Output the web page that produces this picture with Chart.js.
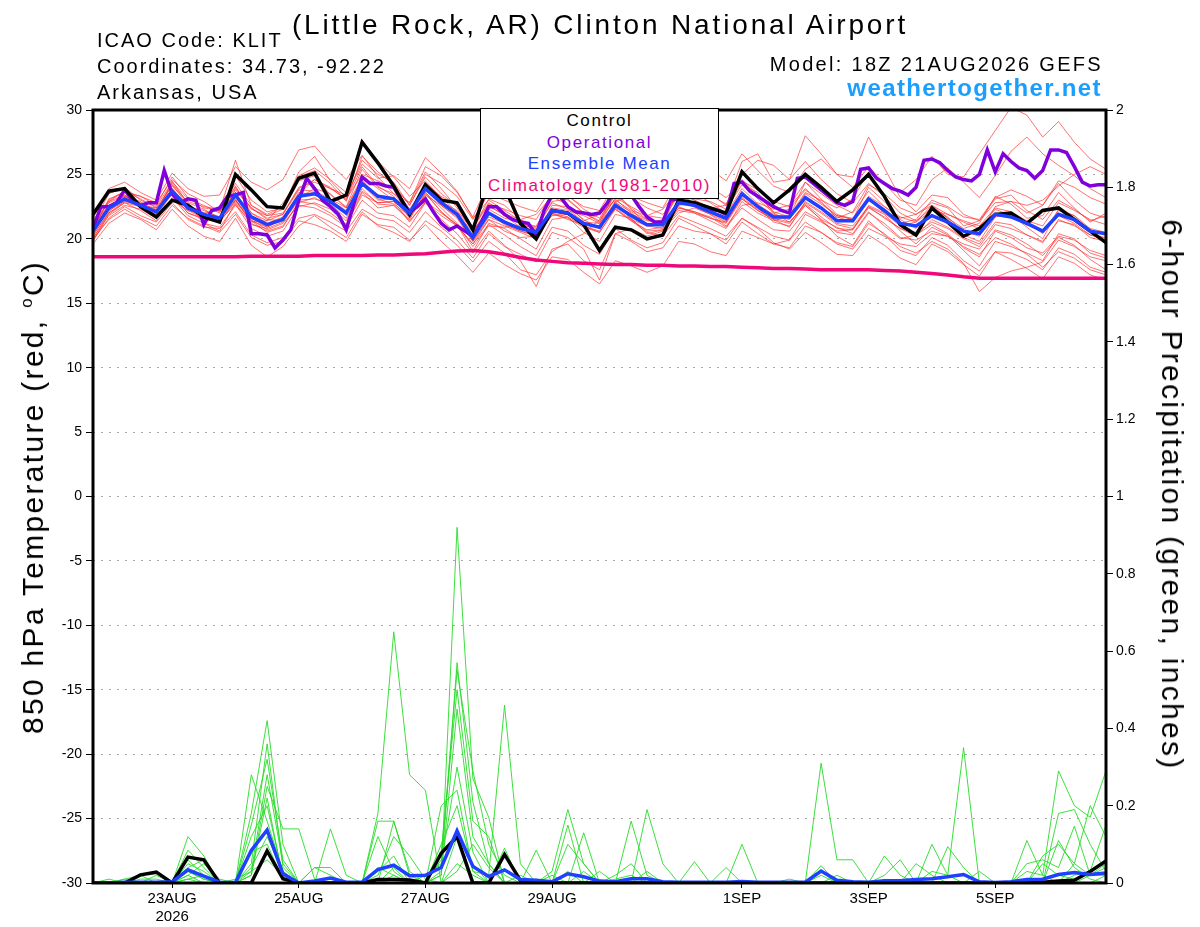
<!DOCTYPE html>
<html>
<head>
<meta charset="utf-8">
<script src="https://cdn.jsdelivr.net/npm/chart.js@4.4.0/dist/chart.umd.min.js"></script>
<style>
    body { margin: 0; background: #fff; }
    #wrap { position: relative; width: 1200px; height: 927px; font-family: "Liberation Sans", Arial, sans-serif; color: #000; }
    #myChart { position: absolute; left: 0; top: 0; }
    .txt { position: absolute; white-space: nowrap; }
    #title { left: 0; top: 11px; width: 1200px; text-align: center; font-size: 28px; line-height: 28px; letter-spacing: 2.85px; }
    #info { left: 97px; top: 27px; font-size: 20px; line-height: 26px; letter-spacing: 2px; }
    #model { right: 97px; top: 51px; font-size: 20px; line-height: 26px; letter-spacing: 2.3px; }
    #site { right: 98px; top: 76px; font-size: 24px; line-height: 24px; font-weight: bold; color: #1a9fff; letter-spacing: 1.4px; }
    #ytitle { left: 33px; top: 497px; font-size: 30px; letter-spacing: 2.3px; transform: translate(-50%, -50%) rotate(-90deg); }
    #y2title { left: 1172px; top: 495px; font-size: 30px; letter-spacing: 2.3px; transform: translate(-50%, -50%) rotate(90deg); }
    #legend { left: 480px; top: 108px; width: 237px; height: 88px; padding-top: 1px; background: #fff; border: 1px solid #000;
        text-align: center; font-size: 17px; line-height: 21.7px; letter-spacing: 1.6px; }
</style>
</head>
<body>
<div id="wrap">
    <canvas id="myChart" width="1200" height="927"></canvas>
    <div class="txt" id="title">(Little Rock, AR) Clinton National Airport</div>
    <div class="txt" id="info">ICAO Code: KLIT<br>Coordinates: 34.73, -92.22<br>Arkansas, USA</div>
    <div class="txt" id="model">Model: 18Z 21AUG2026 GEFS</div>
    <div class="txt" id="site">weathertogether.net</div>
    <div class="txt" id="ytitle">850 hPa Temperature (red, <sup style="font-size:17px">o</sup>C)</div>
    <div class="txt" id="y2title">6-hour Precipitation (green, inches)</div>
    <div class="txt" id="legend">
        <div style="color:#000">Control</div>
        <div style="color:#8000dc">Operational</div>
        <div style="color:#2040ff">Ensemble Mean</div>
        <div style="color:#f0087a">Climatology (1981-2010)</div>
    </div>
</div>
<script>
const ctx = document.getElementById("myChart");

// hours after 18Z 21AUG2026
const tickHours = [30, 78, 126, 174, 246, 294, 342];
const tickLabels = [["23AUG", "2026"], "25AUG", "27AUG", "29AUG", "1SEP", "3SEP", "5SEP"];
const hours6 = Array.from({ length: 65 }, (_, i) => i * 6);
const hours3 = Array.from({ length: 129 }, (_, i) => i * 3);

// 850 hPa temperature, deg C
let tempControl = [21.9,23.7,23.9,22.5,21.7,23.0,22.6,21.7,21.3,25.0, 23.8,22.5,22.4,24.7,25.1,22.9,23.4,27.5,25.9,24.1,
    21.9,24.2,23.0,22.8,20.7,24.5,24.0,21.2,20.0,22.2, 22.0,21.1,19.1,20.9,20.7,20.0,20.3,23.0,22.8,22.4,
    22.0,25.2,23.9,22.8,23.8,25.0,24.0,22.9,23.8,25.0, 23.3,21.1,20.3,22.4,21.3,20.2,20.8,21.9,22.0,21.2,
    22.2,22.4,21.5,20.6,19.7];

let tempMean = [20.6,22.4,23.1,22.6,22.1,23.7,22.4,21.9,21.6,23.4, 21.7,21.1,21.5,23.3,23.5,22.9,22.0,24.3,23.3,23.1,
    22.0,23.9,22.8,21.9,20.1,22.0,21.3,20.8,20.5,22.2, 22.0,21.2,20.9,22.6,21.8,21.1,21.1,22.8,22.6,22.1,
    21.6,23.5,22.5,21.7,21.7,23.2,22.4,21.4,21.4,23.1, 22.2,21.2,21.0,21.8,21.3,20.6,20.4,21.9,21.7,21.2,
    20.6,21.9,21.5,20.6,20.4];

// operational run, every 3 hours
let tempOper = [20.8,22.5,22.5,22.8,23.8,23.0,22.6,22.8,22.8,25.3, 23.5,22.8,23.1,23.0,21.1,22.2,22.4,23.3,23.4,23.6,
    20.4,20.4,20.3,19.3,19.9,20.7,23.0,24.7,23.9,23.0, 22.5,21.9,20.7,22.8,24.8,24.3,24.3,24.1,24.0,23.0,
    22.1,22.5,23.1,22.1,21.2,20.7,21.0,20.6,20.2,21.2, 22.5,22.5,21.9,21.5,21.3,21.2,20.3,22.2,23.4,23.3,
    22.5,22.1,22.0,21.9,22.0,22.8,24.0,24.3,23.4,22.5, 21.7,21.3,21.3,23.0,23.1,22.8,22.6,22.5,22.3,22.2,
    21.9,24.3,24.4,23.7,23.3,22.9,22.5,22.2,22.0,24.7, 24.8,24.3,23.8,23.3,22.8,22.6,22.9,25.4,25.5,24.7,
    24.3,23.9,23.7,23.4,24.0,26.1,26.2,25.9,25.3,24.8, 24.6,24.5,25.0,26.9,25.2,26.6,26.0,25.5,25.3,24.7,
    25.3,26.9,26.9,26.7,25.6,24.4,24.1,24.2,24.2];

let tempClimo = [18.6,18.6,18.6,18.6,18.6,18.6,18.6,18.6,18.6,18.6, 18.65,18.65,18.65,18.65,18.7,18.7,18.7,18.7,18.75,18.75,
    18.8,18.85,18.95,19.05,19.1,19.0,18.8,18.55,18.35,18.25, 18.15,18.1,18.05,18.0,18.0,17.95,17.95,17.9,17.9,17.85,
    17.85,17.8,17.75,17.7,17.7,17.65,17.6,17.6,17.6,17.6, 17.55,17.5,17.4,17.3,17.2,17.05,16.95,16.95,16.95,16.95,
    16.95,16.95,16.95,16.95,16.95];

let redMembers = [
    [21.2,23.5,24.0,23.0,22.5,24.4,23.1,22.6,22.0,24.9, 23.0,22.1,22.4,25.2,26.4,24.5,23.2,26.1,25.0,24.4,
     22.6,24.8,23.5,22.6,20.9,22.8,22.0,21.2,20.7,22.9, 23.1,22.0,21.3,23.6,22.4,21.5,21.0,23.9,23.6,22.8,
     22.0,24.6,23.4,22.1,21.7,24.4,23.1,21.9,21.5,24.0, 22.9,21.5,20.8,22.5,21.6,20.3,19.8,21.7,21.9,20.9,
     20.0,22.3,21.8,20.5,20.0],
    [20.1,21.8,22.6,22.3,21.6,23.0,22.2,21.9,21.4,22.7, 20.8,20.2,20.6,22.5,22.8,22.3,21.1,23.4,22.8,22.9,
     21.3,22.9,22.0,21.1,19.0,21.2,20.8,20.0,19.2,21.5, 21.7,20.5,19.8,21.9,21.6,20.4,20.7,22.0,22.4,21.9,
     21.0,22.6,22.8,22.3,22.6,24.4,23.5,22.6,22.0,23.7, 22.5,21.6,21.9,22.8,22.4,21.0,21.4,22.8,22.9,22.0,
     22.6,24.3,23.0,22.0,21.6],
    [20.8,22.9,23.4,22.4,21.9,24.5,22.7,21.2,20.9,22.6, 21.3,21.4,22.8,24.5,24.9,23.4,22.5,25.4,24.0,23.5,
     22.8,25.2,23.9,22.4,20.8,23.1,22.6,21.5,21.9,23.3, 22.6,21.4,21.9,23.0,22.2,21.8,22.3,23.8,23.0,22.4,
     22.6,26.0,26.6,24.4,24.6,28.0,26.6,25.0,24.8,27.9, 25.5,23.2,22.1,23.4,23.2,21.9,21.4,23.1,23.4,22.2,
     21.5,23.0,22.3,21.4,21.8],
    [19.9,21.6,22.5,21.8,21.3,22.8,21.5,20.9,20.8,22.1, 20.3,19.7,20.1,21.6,21.9,21.3,20.6,22.3,21.6,21.4,
     20.5,22.1,20.9,19.9,18.5,20.4,19.4,18.8,18.2,20.5, 20.1,19.2,16.8,20.4,19.8,19.0,19.3,21.0,20.6,20.4,
     19.9,21.6,20.8,19.7,19.2,20.5,19.7,18.8,18.7,20.3, 19.5,18.5,18.0,19.6,19.0,18.0,17.1,19.0,18.9,18.4,
     17.6,19.3,18.8,17.8,17.4],
    [21.5,22.9,23.7,23.1,22.4,24.1,22.9,22.5,22.3,24.3, 22.6,21.8,22.0,23.9,24.6,24.0,23.0,25.6,24.1,23.3,
     21.6,23.6,22.4,21.2,19.9,22.6,21.8,20.9,21.0,23.1, 23.4,22.3,21.6,23.5,22.3,21.1,21.5,23.4,23.1,22.9,
     22.3,24.2,23.6,22.0,22.3,23.8,22.9,21.6,22.1,24.2, 23.5,22.4,21.9,22.6,21.6,20.8,21.2,23.3,22.7,21.6,
     21.8,23.6,22.4,21.3,22.0],
    [20.6,22.2,22.9,22.6,22.4,23.8,22.5,22.2,21.7,23.9, 22.4,21.6,21.9,23.8,23.7,23.1,22.4,24.8,23.9,23.0,
     21.7,23.4,22.6,21.7,19.8,21.5,20.6,20.1,20.2,22.6, 22.5,21.5,20.8,22.6,21.9,21.4,21.3,22.5,22.0,21.4,
     20.8,22.9,22.0,21.4,21.8,23.6,23.0,22.4,23.1,25.2, 24.3,23.6,24.6,26.4,25.0,24.8,26.6,28.4,30.2,29.6,
     27.9,29.1,27.5,26.2,25.4],
    [19.8,21.9,22.8,22.2,21.4,23.2,21.8,21.2,20.6,22.8, 21.1,20.8,21.3,23.0,23.1,22.7,21.6,23.9,22.7,22.6,
     21.5,23.5,22.1,21.1,19.4,21.0,20.9,21.0,20.6,22.4, 22.2,21.8,21.2,22.8,22.1,21.5,21.0,22.4,22.1,21.7,
     20.9,22.4,21.5,20.7,20.6,22.1,21.4,20.5,20.3,22.0, 21.2,20.1,19.9,20.6,20.2,19.6,19.2,20.7,20.3,19.6,
     18.7,20.1,19.5,18.4,17.6],
    [21.0,22.6,23.3,22.9,22.0,24.2,22.6,22.0,22.2,24.0, 22.4,21.5,21.4,23.2,23.9,23.5,22.4,24.6,23.1,22.7,
     21.8,24.3,22.9,22.0,20.5,22.5,21.9,21.5,20.9,22.8, 22.3,21.3,21.2,23.2,22.5,21.8,21.6,23.6,22.7,22.0,
     21.4,23.7,22.4,21.3,21.0,22.6,21.5,20.9,20.4,22.1, 21.0,20.0,20.3,21.1,20.4,19.3,18.6,20.6,20.1,19.3,
     18.9,20.2,19.9,19.1,18.7],
    [20.3,22.0,22.9,22.7,22.3,23.5,22.0,21.6,21.5,23.0, 21.4,20.5,20.9,22.9,22.7,22.0,21.1,23.6,22.4,22.6,
     21.4,22.8,21.5,20.4,18.9,20.6,19.5,18.3,16.3,19.2, 19.6,18.3,17.6,20.4,20.8,20.2,20.6,22.4,22.1,21.6,
     21.2,23.1,22.2,21.5,20.9,22.9,22.1,21.2,21.0,22.5, 21.9,20.6,19.6,20.9,20.3,19.1,17.9,19.8,19.4,18.9,
     18.3,20.4,20.0,18.9,18.5],
    [20.9,22.4,23.0,22.5,22.1,23.9,22.6,21.9,21.7,23.6, 21.6,20.9,21.6,23.6,23.4,22.8,22.0,24.4,23.4,23.2,
     22.3,24.1,23.3,22.6,20.6,22.3,21.6,21.3,20.8,22.0, 21.5,21.1,21.0,22.9,21.5,21.0,20.8,22.6,22.8,22.5,
     21.9,23.9,22.7,21.8,21.5,23.3,22.4,21.7,21.3,23.1, 22.2,21.3,21.0,21.8,21.2,20.6,20.2,22.0,21.8,21.3,
     20.4,21.8,21.2,20.3,20.1],
    [20.5,22.5,23.4,22.8,22.2,24.3,22.8,22.3,21.6,23.8, 22.3,21.8,22.3,24.8,25.3,24.3,22.9,26.4,25.2,24.2,
     22.6,25.0,24.3,23.3,21.5,23.5,23.0,22.5,22.1,24.0, 23.3,22.5,22.2,24.3,23.2,22.4,21.9,23.4,23.0,22.4,
     21.8,23.1,22.2,21.5,21.2,22.8,22.0,21.1,20.8,22.5, 21.6,20.8,20.2,21.5,20.9,20.1,19.6,21.3,21.1,20.3,
     19.7,21.5,21.0,20.3,19.9],
    [20.2,22.1,23.2,22.4,21.8,23.5,22.3,21.7,21.5,23.1, 21.2,20.6,21.0,22.8,23.2,22.5,21.4,23.7,22.8,22.9,
     21.9,23.8,22.6,21.6,19.8,21.7,21.2,20.6,20.2,21.8, 21.9,21.0,20.5,22.4,21.5,20.6,20.7,22.2,22.0,21.6,
     21.3,23.2,22.3,21.6,21.3,22.7,21.7,20.8,20.7,22.4, 21.7,20.8,20.5,21.3,20.8,20.0,19.4,21.1,20.8,20.3,
     19.8,21.4,21.1,20.1,19.8],
    [20.7,23.1,23.6,23.3,22.6,24.8,23.2,22.4,22.2,26.1, 22.6,21.9,22.5,24.9,25.5,24.6,23.6,27.7,26.0,24.8,
     23.3,24.5,23.2,22.1,20.7,22.0,21.1,20.6,20.3,22.3, 22.0,21.2,20.9,22.3,21.4,20.7,20.9,22.9,23.2,23.4,
     22.7,25.0,26.1,25.7,24.6,26.0,24.6,23.5,22.8,24.3, 23.3,22.0,21.4,22.4,21.7,20.5,20.4,22.5,22.9,22.6,
     23.0,24.1,25.0,25.6,25.0],
    [20.4,22.3,23.0,22.6,22.0,23.6,22.2,21.6,21.3,23.0, 21.5,20.7,21.2,22.6,22.4,21.8,20.9,23.0,22.0,21.8,
     20.9,22.8,21.8,21.0,19.6,21.5,21.0,20.5,20.0,21.9, 21.6,20.9,20.5,22.3,21.4,20.5,20.2,21.8,21.3,20.8,
     20.2,21.6,20.9,20.2,19.9,21.3,20.5,19.7,19.4,21.2, 20.4,19.4,18.9,19.8,19.2,18.1,15.9,17.0,17.5,17.8,
     18.2,19.9,19.4,18.6,18.3],
    [21.3,22.8,23.3,22.7,22.0,23.9,22.5,21.8,21.6,23.5, 22.0,21.2,21.7,23.4,23.6,23.0,22.2,24.2,23.0,23.1,
     22.0,24.0,22.9,22.2,20.8,22.7,22.3,21.8,21.5,23.5, 23.0,22.0,21.4,23.1,22.0,21.2,21.1,22.9,22.5,21.9,
     21.3,23.3,22.6,21.9,21.6,23.5,22.7,21.8,21.5,23.1, 22.0,21.0,21.3,22.6,21.9,21.4,21.0,22.4,22.1,21.4,
     21.0,22.8,22.2,21.5,21.1],
    [20.0,22.0,22.8,22.5,22.2,23.4,22.0,21.5,21.3,22.9, 21.4,20.9,21.5,23.5,24.6,23.9,23.1,25.0,24.5,23.9,
     22.8,25.6,24.9,23.6,21.7,24.4,25.5,24.8,23.4,25.0, 25.3,23.9,23.0,25.1,24.0,23.2,23.5,25.0,24.0,23.5,
     22.6,24.5,23.8,22.9,22.5,23.9,22.8,21.8,21.6,23.3, 22.5,21.7,21.3,22.2,21.9,21.3,20.8,22.3,21.8,21.1,
     20.6,22.2,21.8,20.8,20.5],
    [19.6,21.2,22.0,21.5,20.7,22.3,21.0,20.2,19.8,21.6, 19.5,18.6,19.4,21.0,21.8,20.9,20.1,22.1,21.0,20.5,
     19.8,21.4,20.6,19.5,18.2,19.8,18.9,17.6,17.2,19.0, 19.8,20.4,21.5,23.4,24.2,24.6,25.8,26.4,25.1,24.0,
     23.2,24.4,23.1,22.0,21.3,22.6,21.5,20.2,19.5,21.4, 20.3,19.1,18.7,20.1,19.5,18.3,17.5,19.0,18.4,17.7,
     16.9,18.6,18.1,17.2,16.8],
    [21.6,23.9,24.4,23.6,23.0,25.1,23.9,23.3,23.4,25.6, 24.4,23.8,24.6,26.9,27.2,25.8,24.6,26.5,24.8,23.5,
     22.1,23.6,22.1,21.0,19.6,21.1,20.3,19.4,18.7,20.9, 20.6,19.5,18.8,20.8,19.9,19.3,19.7,21.6,21.0,20.4,
     19.6,21.3,20.4,19.6,19.9,21.9,21.3,20.6,20.7,22.6, 22.0,21.2,21.5,23.0,22.5,21.7,21.5,23.2,23.8,23.3,
     22.6,24.5,24.0,23.2,22.7],
    [20.0,21.5,22.3,21.6,21.0,22.6,21.6,21.0,20.5,21.9, 20.1,19.5,19.8,21.4,21.1,20.6,19.8,21.9,21.1,20.9,
     19.9,21.1,19.8,18.7,17.4,18.9,18.0,17.3,16.8,18.6, 18.4,17.4,16.5,18.3,17.9,17.4,17.9,19.8,19.6,19.0,
     18.7,20.6,20.1,19.6,19.3,21.0,20.5,19.6,19.2,20.8, 20.2,19.6,19.4,20.4,20.2,19.4,18.8,20.1,19.6,18.8,
     17.8,19.0,18.5,17.6,17.2],
    [20.9,23.0,23.7,23.3,22.8,24.6,23.5,22.9,22.1,24.1, 22.0,21.4,21.9,24.0,24.4,23.9,23.4,25.8,24.7,24.9,
     23.9,26.3,25.1,23.7,21.6,23.0,22.2,21.4,20.6,22.0, 21.7,21.0,20.6,22.9,23.3,22.8,22.4,24.6,25.2,25.4,
     24.5,26.6,25.3,24.1,23.6,25.4,26.2,25.0,24.0,25.6, 24.3,23.0,22.6,24.6,25.5,24.4,23.2,24.9,26.8,27.9,
     26.6,25.7,24.9,23.9,23.2]
];

// 6-hour precipitation, inches
let precipControl = [0,0,0,0.021,0.028,0,0.067,0.06,0,0, 0,0.083,0.011,0,0,0,0,0,0.009,0.009,
    0.008,0,0.077,0.12,0,0,0.074,0.007,0,0, 0,0,0,0,0,0,0,0,0,0,
    0,0,0,0,0,0,0,0,0,0, 0,0,0,0,0,0,0,0,0,0,
    0.002,0.005,0.007,0.03,0.057];

let precipMean = [0,0,0.002,0.002,0.002,0.003,0.034,0.018,0.002,0.001, 0.084,0.137,0.024,0,0.005,0.013,0.002,0.002,0.035,0.046,
    0.019,0.02,0.04,0.135,0.043,0.017,0.034,0.009,0.007,0.003, 0.024,0.016,0.005,0.003,0.011,0.011,0.003,0.002,0.002,0.002,
    0.002,0.004,0.002,0.002,0.002,0.002,0.031,0.007,0.003,0.002, 0.006,0.006,0.009,0.011,0.016,0.022,0.003,0.001,0.003,0.009,
    0.01,0.022,0.027,0.022,0.026];

let greenMembers = [
    [0,0,0,0.01,0.01,0,0.05,0.03,0,0, 0.18,0.42,0.1,0,0,0,0,0,0,0.02, 0,0,0.03,0.57,0.21,0.05,0,0,0,0.03,
     0.19,0.05,0,0,0,0,0,0,0,0, 0,0,0,0,0,0,0.02,0,0,0, 0,0,0,0,0,0,0,0,0,0.03, 0.02,0,0.05,0.02,0.04],
    [0,0,0.01,0,0,0,0.12,0.07,0,0, 0.05,0.36,0.04,0,0,0,0,0,0.18,0.65, 0.28,0.24,0,0.05,0.02,0,0,0,0,0,
     0,0,0,0,0.16,0.02,0,0,0,0, 0,0,0,0,0,0,0,0,0,0, 0.07,0.02,0,0,0,0,0,0,0,0, 0,0.18,0.19,0.1,0.03],
    [0,0,0,0,0.02,0,0.03,0.01,0,0.01, 0.03,0.28,0.05,0,0.04,0.04,0,0,0,0.01, 0,0,0.02,0.92,0.27,0.17,0,0,0,0,
     0,0,0,0,0,0,0,0,0,0, 0,0,0,0,0,0,0.31,0.06,0.06,0, 0,0,0,0,0,0,0,0,0,0, 0,0,0,0.02,0.05],
    [0,0,0,0,0,0,0.085,0.04,0,0, 0.02,0.25,0.14,0.14,0.01,0,0,0,0.12,0.03, 0,0,0.2,0.24,0.03,0.02,0.46,0.05,0,0,
     0,0.13,0,0,0,0,0,0,0,0, 0,0.1,0,0,0,0,0,0,0,0, 0,0,0,0,0,0,0,0,0,0.11, 0.02,0.29,0.2,0.17,0.29],
    [0,0,0,0,0,0,0.06,0.02,0,0, 0.28,0.16,0.03,0,0,0.14,0.02,0,0,0.16, 0.03,0,0.08,0.5,0.16,0.12,0,0,0.085,0,
     0.15,0,0,0,0,0.19,0.05,0,0,0, 0,0,0,0,0,0,0.045,0,0,0, 0,0,0,0.1,0.02,0.35,0,0,0,0, 0,0,0.02,0.03,0.15],
    [0,0.01,0,0,0,0,0.04,0.06,0,0, 0.12,0.2,0.02,0,0,0,0,0,0.16,0.16, 0.02,0,0,0.12,0.05,0,0.09,0,0,0,
     0.03,0,0,0,0,0,0,0,0.055,0, 0,0,0,0,0,0,0,0,0,0, 0.02,0.06,0,0,0.094,0.04,0,0,0,0.05, 0.06,0.04,0.147,0.02,0.02],
    [0,0,0,0,0,0,0.03,0.01,0,0, 0.08,0.1,0.01,0,0.04,0.02,0,0,0.04,0.02, 0,0,0.1,0.2,0.03,0,0,0,0.01,0,
     0.1,0.05,0,0.01,0.02,0,0,0,0,0, 0.04,0,0,0,0,0,0,0,0,0, 0,0,0.05,0.02,0,0,0,0,0,0, 0,0,0,0,0],
    [0,0,0.01,0.02,0,0,0.02,0.05,0.01,0, 0.03,0.06,0.02,0,0,0,0,0,0.02,0.12, 0.07,0.01,0,0.03,0.1,0.04,0,0.02,0,0,
     0,0.03,0,0,0,0,0,0,0,0, 0,0,0,0,0,0,0,0,0,0, 0,0,0,0.03,0.02,0,0,0,0,0, 0.05,0.02,0.01,0.03,0.06],
    [0,0,0,0,0,0,0.01,0.02,0,0, 0.15,0.32,0.06,0,0,0,0,0,0,0, 0,0.02,0.05,0.3,0.08,0,0,0,0,0,
     0,0,0.03,0,0,0.03,0,0,0,0, 0,0,0,0,0,0,0,0.02,0,0, 0,0,0,0,0,0,0,0,0,0, 0,0.11,0.04,0.01,0],
    [0,0,0,0,0,0,0.02,0,0,0, 0.04,0.12,0.03,0,0,0,0,0,0.03,0.07, 0,0,0.02,0.45,0.12,0.05,0,0,0,0.02,
     0,0,0,0,0,0,0,0,0,0, 0,0,0,0,0,0,0,0,0,0, 0,0,0,0,0,0,0,0,0,0, 0,0,0,0,0.02],
    [0,0,0,0,0,0,0.01,0,0,0, 0.02,0.22,0.01,0,0,0,0,0,0,0.04, 0,0,0.06,0.55,0.29,0.1,0.02,0,0,0,
     0,0,0,0.02,0.05,0,0,0,0,0, 0,0,0,0,0.01,0,0.03,0,0,0, 0,0,0,0,0,0,0.03,0,0,0, 0.07,0.1,0.05,0.2,0.12]
];

let toPoints = (hrs, vals) => vals.map((v, i) => ({ x: hrs[i], y: v }));

let datasets = [
    { label: "Ensemble Mean", data: toPoints(hours6, tempMean), borderColor: "#2040ff", borderWidth: 3.5, yAxisID: "y", order: 1 },
    { label: "Control", data: toPoints(hours6, tempControl), borderColor: "#000", borderWidth: 3.5, yAxisID: "y", order: 2 },
    { label: "Operational", data: toPoints(hours3, tempOper), borderColor: "#8000dc", borderWidth: 3.5, yAxisID: "y", order: 3 },
    { label: "Climatology", data: toPoints(hours6, tempClimo), borderColor: "#f0087a", borderWidth: 3.5, yAxisID: "y", order: 4 },
    { label: "Precip Mean", data: toPoints(hours6, precipMean), borderColor: "#2040ff", borderWidth: 3.5, yAxisID: "y2", order: 1 },
    { label: "Precip Control", data: toPoints(hours6, precipControl), borderColor: "#000", borderWidth: 3.5, yAxisID: "y2", order: 2 }
];
redMembers.forEach((m, i) => {
    datasets.push({ label: "T member " + (i + 1), data: toPoints(hours6, m), borderColor: "rgba(255,40,40,0.65)", borderWidth: 1, yAxisID: "y", order: 10 });
});
greenMembers.forEach((m, i) => {
    datasets.push({ label: "P member " + (i + 1), data: toPoints(hours6, m), borderColor: "rgba(40,220,40,0.9)", borderWidth: 1, yAxisID: "y2", order: 10 });
});

const frame = {
    id: "frame",
    afterDatasetsDraw(chart) {
        const { ctx, chartArea: a } = chart;
        ctx.save();
        ctx.strokeStyle = "#000";
        ctx.lineWidth = 3;
        ctx.strokeRect(a.left, a.top, a.right - a.left, a.bottom - a.top);
        ctx.restore();
    }
};

const tickFont = { family: "'Liberation Sans', Arial, sans-serif", size: 14 };

let chart = new Chart(ctx, {
    type: "line",
    data: { datasets: datasets },
    options: {
        responsive: false,
        animation: false,
        devicePixelRatio: 1,
        layout: { padding: { top: 110, left: 0, right: 0, bottom: 0 } },
        elements: { point: { radius: 0 }, line: { tension: 0, fill: false } },
        plugins: { legend: { display: false }, tooltip: { enabled: false } },
        scales: {
            x: {
                type: "linear",
                min: 0,
                max: 384,
                afterBuildTicks: (s) => { s.ticks = tickHours.map(v => ({ value: v })); },
                afterFit: (s) => { s.height = 44; },
                ticks: {
                    autoSkip: false,
                    maxRotation: 0,
                    padding: 2,
                    color: "#000",
                    font: { family: tickFont.family, size: 15 },
                    callback: (v) => tickLabels[tickHours.indexOf(v)]
                },
                grid: { drawOnChartArea: false, tickLength: 5, color: "#000" },
                border: { display: false }
            },
            y: {
                position: "left",
                min: -30,
                max: 30,
                afterFit: (s) => { s.width = 93; },
                ticks: { stepSize: 5, color: "#000", font: tickFont, padding: 4 },
                grid: {
                    color: (c) => (c.tick && Math.abs(c.tick.value) === 30) ? "rgba(0,0,0,0)" : "#a8a8a8",
                    tickColor: "#000",
                    tickLength: 7,
                    lineWidth: 1
                },
                border: { display: false, dash: [2, 6] }
            },
            y2: {
                position: "right",
                min: 0,
                max: 2,
                afterFit: (s) => { s.width = 94; },
                ticks: { stepSize: 0.2, color: "#000", font: tickFont, padding: 3, callback: (v) => String(Number(v.toFixed(1))) },
                grid: { drawOnChartArea: false, tickLength: 7, color: "#000" },
                border: { display: false }
            }
        }
    },
    plugins: [frame]
});
</script>
</body>
</html>
